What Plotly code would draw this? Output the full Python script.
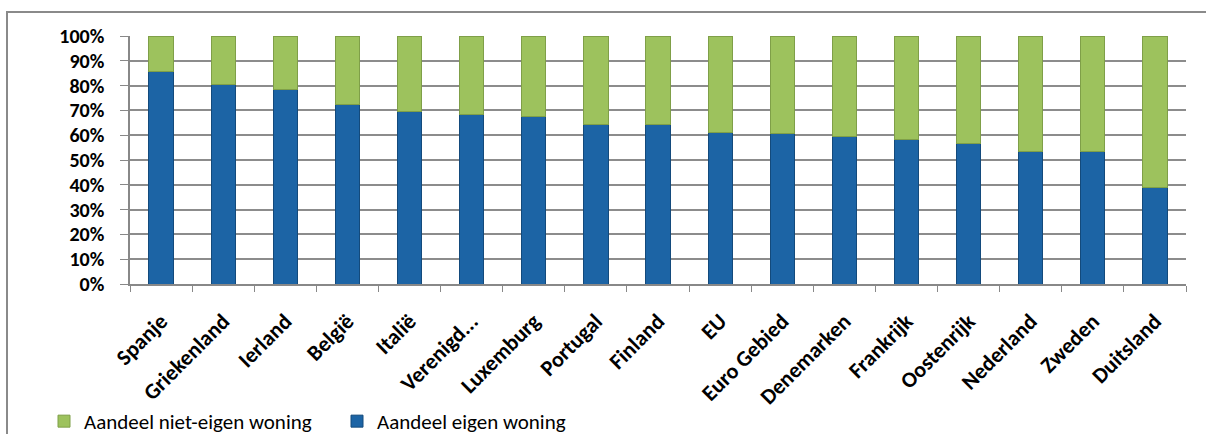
import plotly.graph_objects as go

categories = ["Spanje", "Griekenland", "Ierland", "België", "Italië", "Verenigd...",
              "Luxemburg", "Portugal", "Finland", "EU", "Euro Gebied", "Denemarken",
              "Frankrijk", "Oostenrijk", "Nederland", "Zweden", "Duitsland"]
eigen = [85.5, 80.3, 78.5, 72.5, 69.5, 68.5, 67.5, 64.5, 64.3, 61.2, 60.8, 59.4,
         58.3, 56.6, 53.3, 53.3, 39.0]
niet_eigen = [14.5, 19.7, 21.5, 27.5, 30.5, 31.5, 32.5, 35.5, 35.7, 38.8, 39.2, 40.6,
              41.7, 43.4, 46.7, 46.7, 61.0]
y_ticks = [0, 10, 20, 30, 40, 50, 60, 70, 80, 90, 100]
y_tick_text = ["0%", "10%", "20%", "30%", "40%", "50%", "60%", "70%", "80%", "90%", "100%"]

FONT = "Carlito, Calibri, Lato, sans-serif"

fig = go.Figure()
fig.add_trace(go.Bar(
    x=categories, y=eigen, name="Aandeel eigen woning",
    marker=dict(color="#1C64A5", line=dict(color="#134a7c", width=1)),
    legendrank=2,
))
fig.add_trace(go.Bar(
    x=categories, y=niet_eigen, name="Aandeel niet-eigen woning",
    marker=dict(color="#9DC25D", line=dict(color="#7f9f48", width=1)),
    legendrank=1,
))

W, H = 1206, 434
L, R, T, B = 130, 20, 36, 150
pw, ph = W - L - R, H - T - B

def px(x):
    return (x - L) / pw

def py(y):
    return (H - B - y) / ph

fig.update_layout(
    width=W, height=H,
    barmode="stack", bargap=0.61,
    margin=dict(l=L, r=R, t=T, b=B, autoexpand=False),
    paper_bgcolor="white", plot_bgcolor="white",
    font=dict(family=FONT, color="black"),
    showlegend=True,
    legend=dict(
        orientation="h", x=px(44), xanchor="left", y=py(401), yanchor="top",
        font=dict(size=21, family=FONT, color="black"), traceorder="normal",
        entrywidth=248, entrywidthmode="pixels",
        bgcolor="rgba(0,0,0,0)",
    ),
    xaxis=dict(
        type="category", tickangle=-45, tickson="boundaries",
        ticks="outside", ticklen=6, tickcolor="#888",
        showline=True, linecolor="#888", linewidth=1.5,
        tickfont=dict(size=22, family=FONT, color="black", weight="bold"),
        ticklabelstandoff=14,
        showgrid=False, automargin=False,
    ),
    yaxis=dict(
        range=[0, 100], tickmode="array", tickvals=y_ticks, ticktext=y_tick_text,
        ticks="outside", ticklen=8, tickcolor="#888",
        showline=True, linecolor="#888", linewidth=1.5,
        showgrid=True, gridcolor="#8c8c8c", gridwidth=1.5,
        tickfont=dict(size=20, family=FONT, color="black", weight="bold"),
        ticklabelstandoff=12,
        zeroline=False, automargin=False,
    ),
    shapes=[dict(
        type="rect", xref="paper", yref="paper",
        x0=px(7), x1=px(1215), y0=py(445), y1=py(12),
        line=dict(color="#8a8a8a", width=2), fillcolor="rgba(0,0,0,0)",
        layer="below",
    )],
)

fig.write_html("out.html")
